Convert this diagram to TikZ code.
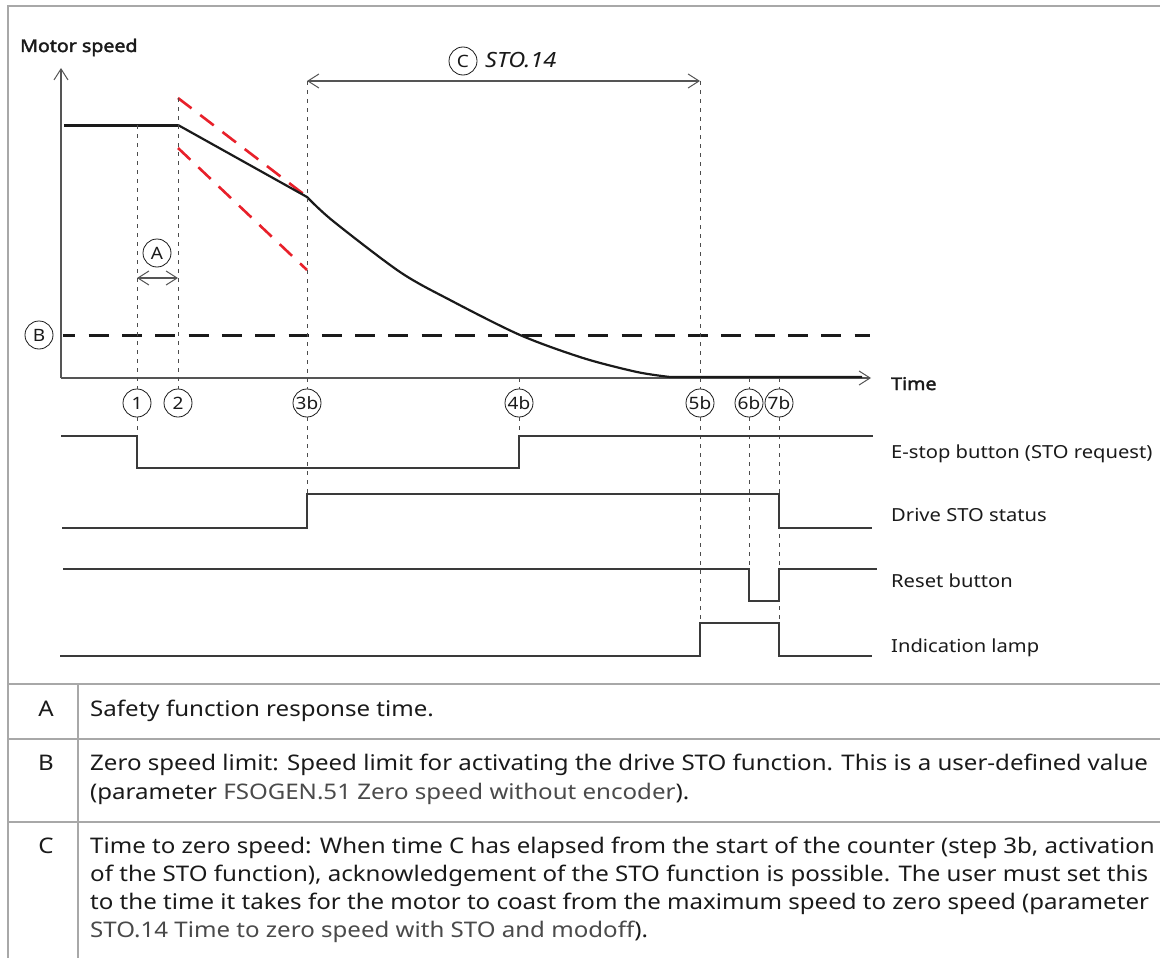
\documentclass[tikz,border=0pt]{standalone}
\usepackage{fontspec}
\setmainfont{Noto Sans}[FakeStretch=1.12,BoldFont={Noto Sans},BoldFeatures={FakeBold=2.2}]
\usetikzlibrary{arrows.meta}
\definecolor{framegray}{HTML}{A8A8A8}
\definecolor{ink}{HTML}{1A1A1A}
\definecolor{axisgray}{HTML}{555555}
\definecolor{sigcol}{HTML}{3A3A3A}
\definecolor{redd}{HTML}{E8202A}
\definecolor{paramcol}{HTML}{4A4A4A}
\newcommand\paramtxt[1]{{\color{paramcol}#1}}
\begin{document}
\begin{tikzpicture}[x=1pt,y=-1pt,
  framel/.style={draw=framegray,line width=2pt},
  axisl/.style={draw=axisgray,line width=1.2pt},
  sig/.style={draw=sigcol,line width=1.3pt},
  vdot/.style={draw=black!70,line width=0.9pt,dash pattern=on 4pt off 5pt},
  circlab/.style={circle,draw=ink,line width=0.8pt,minimum size=28pt,inner sep=0pt,font=\fontsize{17}{17}\selectfont,text=ink},
  openarrow/.style={-{Straight Barb[length=11pt,width=14pt,line width=1pt]}},
  biarrow/.style={{Straight Barb[length=11pt,width=14pt,line width=1pt]}-{Straight Barb[length=11pt,width=14pt,line width=1pt]}},
  lab/.style={anchor=base west,inner sep=0pt,font=\fontsize{18}{18}\selectfont,text=ink},
  boldlab/.style={anchor=base west,inner sep=0pt,font=\fontsize{17.5}{17.5}\selectfont\bfseries,text=ink},
  tab/.style={anchor=base west,inner sep=0pt,font=\fontsize{21.5}{21.5}\selectfont,text=ink},
  tabkey/.style={anchor=base,inner sep=0pt,font=\fontsize{21.5}{21.5}\selectfont,text=ink}
]
\useasboundingbox (0,0) rectangle (1160,958);
\fill[white] (0,0) rectangle (1160,958);

% frame and table
\draw[framel] (1160,6) -- (8,6) -- (8,958);
\draw[framel] (8,684) -- (1160,684);
\draw[framel] (8,739) -- (1160,739);
\draw[framel] (8,822) -- (1160,822);
\draw[framel] (78,684) -- (78,958);

% axes
\coordinate (O) at (61,378);
\coordinate (ytop) at (61,68);
\coordinate (xend) at (871,378);
\draw[axisl,openarrow] (O) -- (ytop);
\draw[axisl,openarrow] (O) -- (xend);
\node[boldlab] (ms) at (20,52) {Motor speed};
\node[boldlab] (time) at (891,390) {Time};

% zero speed limit B
\draw[ink,line width=3pt,dash pattern=on 20pt off 13.3pt,dash phase=7.6pt] (63,335) -- (870,335);

% red tolerance lines
\draw[redd,line width=2.6pt,dash pattern=on 17pt off 11pt] (178,98) -- (310,199);
\draw[redd,line width=2.6pt,dash pattern=on 17pt off 11pt] (178,148) -- (307,270);

% motor speed curve
\draw[ink,line width=3pt] (64,125) -- (178,125);
\draw[ink,line width=2.2pt,line join=round] (178,125) -- (307,197)
  -- plot[smooth] coordinates {(307,197) (333,221) (400,272) (450,300) (520,335) (583,358) (637,372) (670,377)}
  -- (862,377);

% C arrow
\coordinate (cL) at (307,81);
\coordinate (cR) at (700,81);
\draw[axisl,biarrow] (cL) -- (cR);
\node[circlab] (lc) at (463,61) {C};
\node[anchor=base west,inner sep=0pt,font=\fontsize{21}{21}\selectfont\itshape,text=ink] (sto) at (485,68) {STO.14};

% A arrow
\coordinate (aL) at (137,278);
\coordinate (aR) at (178,278);
\draw[axisl,biarrow] (aL) -- (aR);
\node[circlab] (la) at (157,253) {A};
\node[circlab] (lb) at (39,335) {B};

% step markers
\node[circlab] (p1) at (137,403) {1};
\node[circlab] (p2) at (178,403) {2};
\node[circlab] (p3) at (307,403) {3b};
\node[circlab] (p4) at (519,403) {4b};
\node[circlab] (p5) at (700,403) {5b};
\node[circlab] (p6) at (749,403) {6b};
\node[circlab] (p7) at (779,403) {7b};

\coordinate (t1) at (137,125);
\coordinate (t2) at (178,98);
\coordinate (t4) at (519,378);
\coordinate (t6) at (749,378);
\coordinate (t7) at (779,378);
\coordinate (e1) at (137,436);
\coordinate (e3) at (307,494);
\coordinate (e4) at (519,436);
\coordinate (e5) at (700,623);
\coordinate (e6) at (749,569);
\coordinate (e7) at (779,623);

\draw[vdot] (t1) -- (p1);  \draw[vdot] (p1) -- (e1);
\draw[vdot] (t2) -- (p2);
\draw[vdot] (cL) -- (p3);  \draw[vdot] (p3) -- (e3);
\draw[vdot] (t4) -- (p4);  \draw[vdot] (p4) -- (e4);
\draw[vdot] (cR) -- (p5);  \draw[vdot] (p5) -- (e5);
\draw[vdot] (t6) -- (p6);  \draw[vdot] (p6) -- (e6);
\draw[vdot] (t7) -- (p7);  \draw[vdot] (p7) -- (e7);

% signals
\draw[sig] (61,436) -- (137,436) -- (137,468) -- (519,468) -- (519,436) -- (873,436);
\draw[sig] (62,528) -- (307,528) -- (307,494) -- (779,494) -- (779,528) -- (872,528);
\draw[sig] (63,569) -- (749,569) -- (749,601) -- (779,601) -- (779,569) -- (877,569);
\draw[sig] (60,656) -- (700,656) -- (700,623) -- (779,623) -- (779,656) -- (872,656);

\node[lab] (s1) at (891,458) {E-stop button (STO request)};
\node[lab] (s2) at (891,521) {Drive STO status};
\node[lab] (s3) at (891,587) {Reset button};
\node[lab] (s4) at (891,652) {Indication lamp};

% table
\node[tabkey] (ka) at (46,716) {A};
\node[tabkey] (kb) at (46,770) {B};
\node[tabkey] (kc) at (46,853) {C};
\node[tab] (ra) at (90,716) {Safety function response time.};
\node[tab] (rb1) at (90,770) {Zero speed limit: Speed limit for activating the drive STO function. This is a user-defined value};
\node[tab] (rb2) at (90,799) {(parameter \paramtxt{FSOGEN.51 Zero speed without encoder}).};
\node[tab] (rc1) at (90,853) {Time to zero speed: When time C has elapsed from the start of the counter (step 3b, activation};
\node[tab] (rc2) at (90,881) {of the STO function), acknowledgement of the STO function is possible. The user must set this};
\node[tab] (rc3) at (90,909) {to the time it takes for the motor to coast from the maximum speed to zero speed (parameter};
\node[tab] (rc4) at (90,937) {\paramtxt{STO.14 Time to zero speed with STO and modoff}).};
\end{tikzpicture}
\end{document}
